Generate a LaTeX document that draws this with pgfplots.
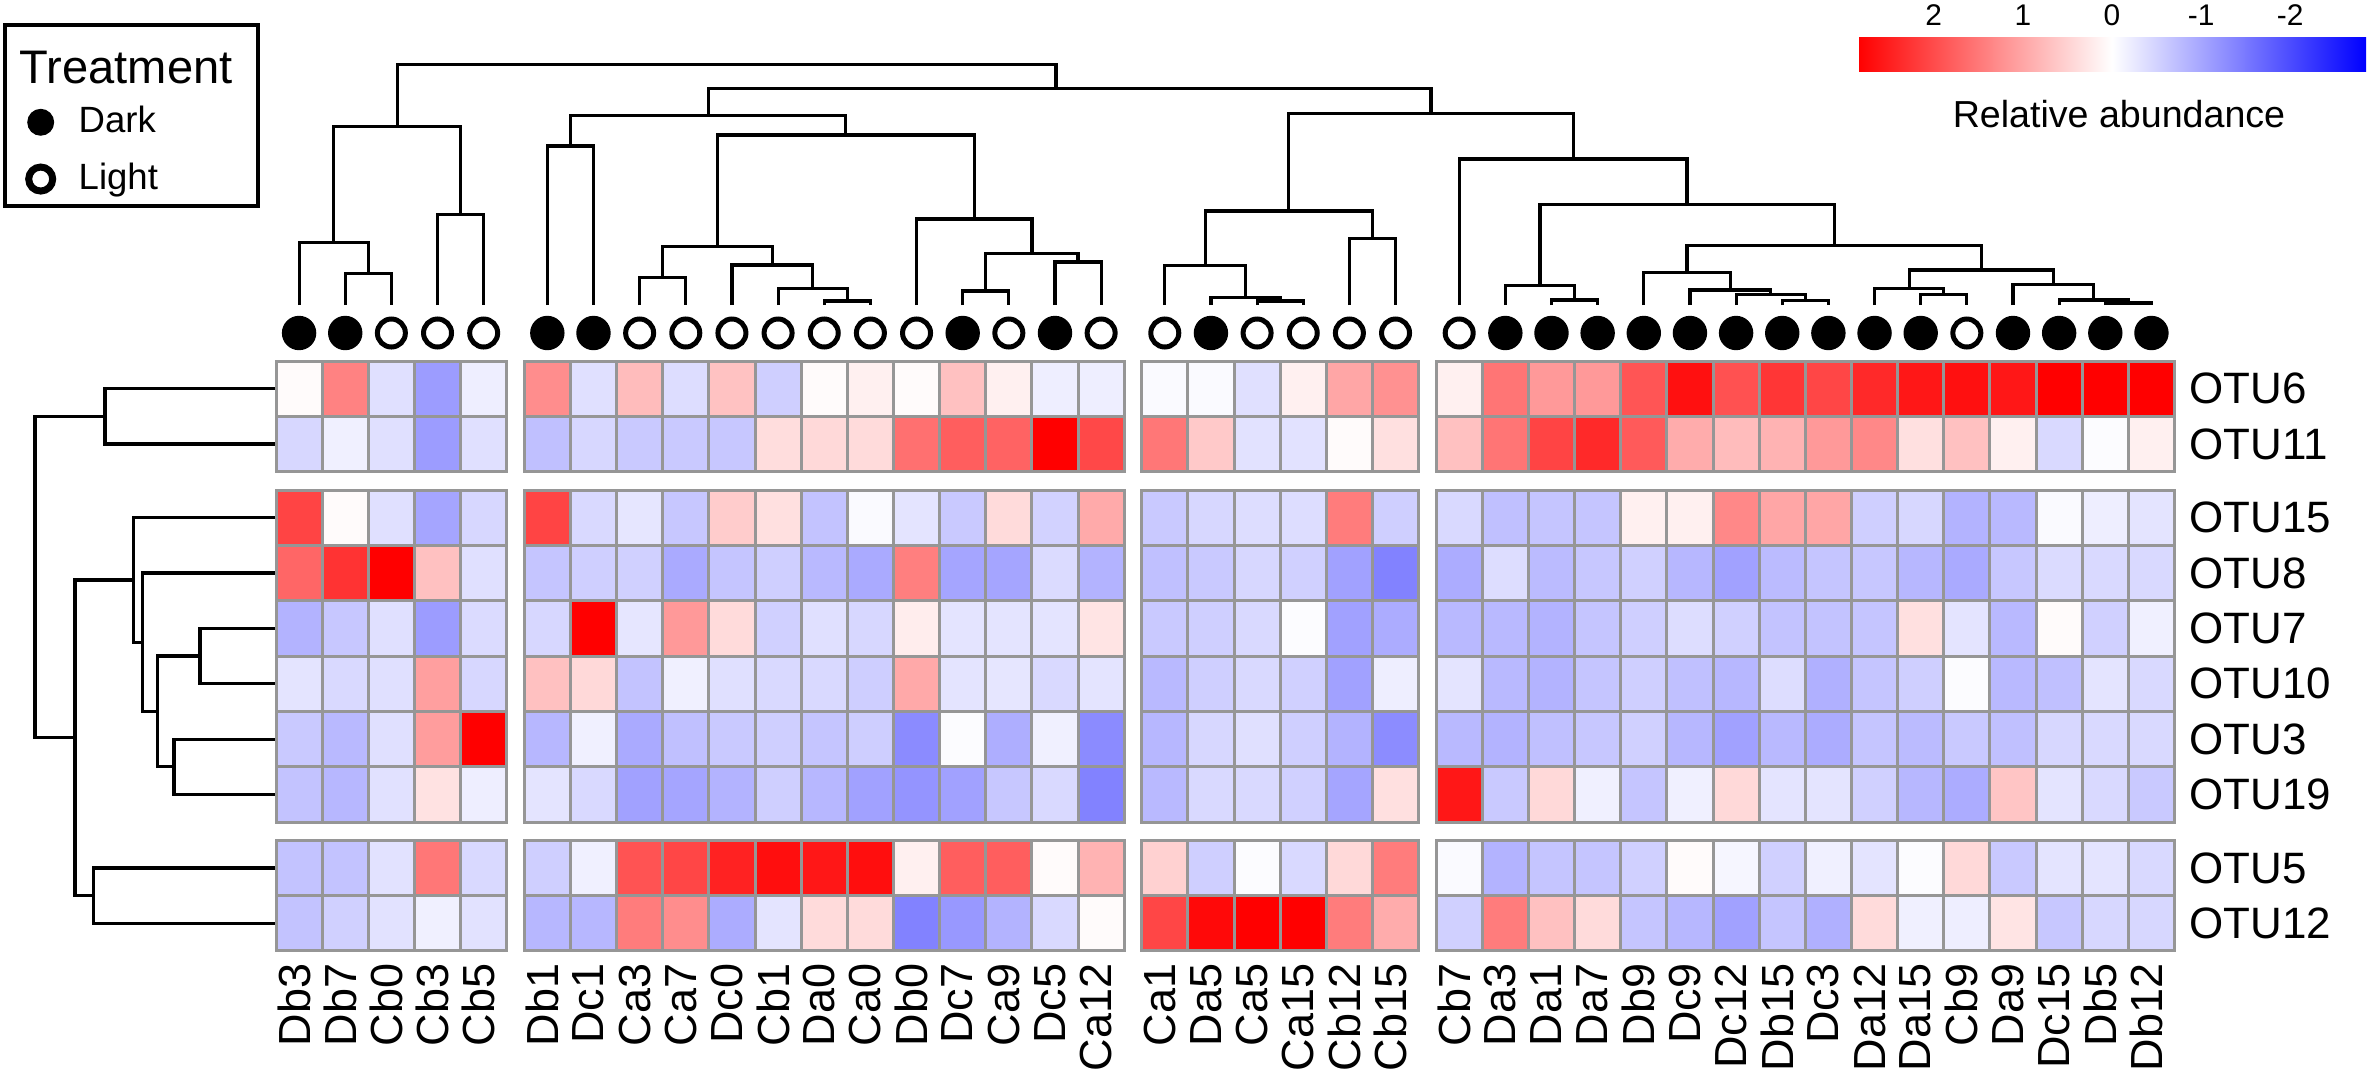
\documentclass[border=0pt]{standalone}
\usepackage{pgfplots}
\pgfplotsset{compat=1.18}
\usepackage{pgfplotstable}
\usepackage{fontspec}
\setmainfont{Liberation Sans}

\definecolor{cellgray}{RGB}{150,150,150}

% relative abundance (scaled), samples in dendrogram order
% i = column index, g = column block, t = 1 dark / 0 light
\pgfplotstableread{
name i  g t OTU6  OTU11 OTU15 OTU8  OTU7  OTU10 OTU3  OTU19 OTU5  OTU12
Db3  0  0 1  0.05 -0.45  2.09  1.71 -0.85 -0.30 -0.60 -0.67 -0.67 -0.67
Db7  1  0 1  1.40 -0.17  0.05  2.28 -0.62 -0.42 -0.78 -0.80 -0.67 -0.52
Cb0  2  0 0 -0.35 -0.35 -0.35  2.85 -0.35 -0.35 -0.35 -0.33 -0.32 -0.32
Cb3  3  0 0 -1.10 -1.10 -1.00  0.70 -1.10  1.07  1.10  0.33  1.52 -0.17
Cb5  4  0 0 -0.19 -0.35 -0.45 -0.35 -0.40 -0.45  2.85 -0.19 -0.42 -0.32
Db1  5  1 1  1.28 -0.70  2.09 -0.65 -0.45  0.70 -0.80 -0.30 -0.53 -0.80
Dc1  6  1 1 -0.35 -0.45 -0.42 -0.53  2.85  0.43 -0.17 -0.42 -0.17 -0.80
Ca3  7  1 0  0.75 -0.60 -0.28 -0.52 -0.28 -0.67 -0.95 -1.05  1.93  1.47
Ca7  8  1 0 -0.38 -0.60 -0.62 -0.95  1.14 -0.17 -0.70 -1.00  2.07  1.28
Dc0  9  1 0  0.68 -0.62  0.57 -0.65  0.40 -0.35 -0.60 -0.85  2.47 -0.93
Cb1  10 1 0 -0.53  0.38  0.35 -0.53 -0.52 -0.42 -0.53 -0.53  2.70 -0.30
Da0  11 1 0  0.05  0.43 -0.67 -0.78 -0.35 -0.42 -0.65 -0.80  2.60  0.40
Ca0  12 1 0  0.17  0.40 -0.05 -0.95 -0.45 -0.55 -0.55 -1.05  2.70  0.40
Db0  13 1 0  0.05  1.60 -0.30  1.43  0.20  0.96 -1.30 -1.20  0.17 -1.40
Dc7  14 1 1  0.70  1.80 -0.60 -1.00 -0.30 -0.30 -0.03 -1.05  1.80 -1.15
Ca9  15 1 0  0.17  1.75  0.40 -1.00 -0.30 -0.28 -0.90 -0.62  1.80 -0.85
Dc5  16 1 1 -0.19  2.85 -0.50 -0.40 -0.30 -0.42 -0.17 -0.42  0.05 -0.42
Ca12 17 1 0 -0.19  2.05  0.95 -0.85  0.30 -0.30 -1.30 -1.40  0.85  0.05
Ca1  18 2 0 -0.05  1.52 -0.60 -0.70 -0.60 -0.78 -0.80 -0.78  0.52  2.07
Da5  19 2 1 -0.05  0.60 -0.45 -0.60 -0.53 -0.53 -0.45 -0.42 -0.53  2.75
Ca5  20 2 0 -0.35 -0.32 -0.38 -0.45 -0.42 -0.42 -0.35 -0.42 -0.03  2.85
Ca15 21 2 0  0.17 -0.32 -0.38 -0.52 -0.03 -0.52 -0.53 -0.52 -0.42  2.85
Cb12 22 2 0  1.00  0.05  1.47 -1.05 -1.05 -1.05 -0.85 -1.00  0.43  1.47
Cb15 23 2 0  1.23  0.35 -0.53 -1.40 -0.93 -0.19 -1.28  0.35  1.47  0.93
Cb7  24 3 0  0.17  0.70 -0.42 -0.93 -0.78 -0.30 -0.78  2.60 -0.05 -0.52
Da3  25 3 1  1.55  1.55 -0.70 -0.38 -0.78 -0.78 -0.85 -0.60 -0.85  1.47
Da1  26 3 1  1.14  2.09 -0.65 -0.76 -0.85 -0.85 -0.70  0.43 -0.65  0.70
Da7  27 3 1  1.14  2.40 -0.65 -0.62 -0.65 -0.65 -0.62 -0.17 -0.65  0.40
Db9  28 3 1  1.90  1.85  0.17 -0.52 -0.53 -0.53 -0.52 -0.65 -0.52 -0.65
Dc9  29 3 1  2.67  0.93  0.17 -0.80 -0.38 -0.70 -0.80 -0.17  0.05 -0.80
Dc12 30 3 1  1.95  0.75  1.33 -1.05 -0.52 -0.80 -1.05  0.43 -0.10 -1.05
Db15 31 3 1  2.25  0.85  1.00 -0.76 -0.67 -0.38 -0.78 -0.30 -0.52 -0.65
Dc3  32 3 1  2.07  1.14  1.00 -0.65 -0.67 -0.88 -0.93 -0.30 -0.17 -0.88
Da12 33 3 1  2.40  1.33 -0.53 -0.62 -0.65 -0.65 -0.65 -0.52 -0.30  0.40
Da15 34 3 1  2.60  0.35 -0.45 -0.80  0.35 -0.53 -0.76 -0.80 -0.03 -0.17
Cb9  35 3 0  2.67  0.70 -0.85 -0.95 -0.30 -0.03 -0.60 -0.93  0.43 -0.19
Da9  36 3 1  2.60  0.17 -0.78 -0.62 -0.78 -0.78 -0.70  0.65 -0.60  0.30
Dc15 37 3 1  2.85 -0.42 -0.05 -0.40  0.05 -0.70 -0.45 -0.30 -0.30 -0.62
Db5  38 3 1  2.85 -0.03 -0.19 -0.42 -0.52 -0.30 -0.42 -0.42 -0.30 -0.45
Db12 39 3 1  2.85  0.17 -0.30 -0.42 -0.17 -0.42 -0.42 -0.60 -0.42 -0.45
}\samples

\pgfplotstableread{
x    y     name
2189 388.7 OTU6
2189 444.0 OTU11
2189 517.7 OTU15
2189 573.0 OTU8
2189 628.4 OTU7
2189 683.7 OTU10
2189 739.1 OTU3
2189 794.4 OTU19
2189 868.0 OTU5
2189 923.3 OTU12
}\otus

% column centre (px): 46.15 per cell, 17.5 between blocks
\newcommand{\colx}{276+46.15*(\thisrow{i}+0.5)+17.5*\thisrow{g}}

\pgfplotsset{
  cell/.style={scatter, only marks, mark=square*, mark size=0.23075cm,
    point meta=explicit,
    scatter/use mapped color={draw=cellgray, fill=mapped color},
    mark options={yscale=1.1993, line width=0.03cm}, forget plot},
  dend/.style={black, line width=0.032cm, line join=miter, forget plot},
}

\begin{document}
\begin{tikzpicture}
\begin{axis}[
  width=23.7cm, height=10.76cm, scale only axis,
  xmin=0, xmax=2370, ymin=0, ymax=1076, y dir=reverse,
  hide axis, clip=false,
  colormap={rwb}{rgb255=(0,0,255) rgb255=(255,255,255) rgb255=(255,0,0)},
  point meta min=-2.85, point meta max=2.85,
  colorbar horizontal,
  colorbar shift/.style={},
  colorbar style={
    at={(parent axis.south west)}, anchor=south west,
    xshift=18.58cm, yshift=10.04cm,
    width=5.08cm, height=0.34cm, scale only axis,
    hide axis=false, y dir=normal, x dir=reverse,
    xtick={-2,-1,0,1,2},
    xticklabel pos=upper,
    axis line style={draw=none},
    major tick length=0pt,
    xticklabel style={font=\fontsize{8.5}{10}\selectfont},
    /pgf/number format/assume math mode=true,
  },
  legend style={at={(axis cs:24.5,105.7)}, anchor=north west,
    draw=none, fill=none, inner sep=0pt, nodes={inner sep=0pt},
    column sep=0.225cm, row sep=0.25cm,
    font=\fontsize{10.4}{12}\selectfont},
  legend cell align=left,
]

\addlegendimage{legend image code/.code={\fill[black] (0cm,0cm) circle[radius=0.1275cm];}}
\addlegendentry{Dark}
\addlegendimage{legend image code/.code={\draw[black, line width=0.07cm] (0cm,0cm) circle[radius=0.12cm];}}
\addlegendentry{Light}

% heatmap, one row per OTU
\addplot[cell] table[x expr=\colx, y expr=388.7, meta=OTU6]  {\samples};
\addplot[cell] table[x expr=\colx, y expr=444.0, meta=OTU11] {\samples};
\addplot[cell] table[x expr=\colx, y expr=517.7, meta=OTU15] {\samples};
\addplot[cell] table[x expr=\colx, y expr=573.0, meta=OTU8]  {\samples};
\addplot[cell] table[x expr=\colx, y expr=628.4, meta=OTU7]  {\samples};
\addplot[cell] table[x expr=\colx, y expr=683.7, meta=OTU10] {\samples};
\addplot[cell] table[x expr=\colx, y expr=739.1, meta=OTU3]  {\samples};
\addplot[cell] table[x expr=\colx, y expr=794.4, meta=OTU19] {\samples};
\addplot[cell] table[x expr=\colx, y expr=868.0, meta=OTU5]  {\samples};
\addplot[cell] table[x expr=\colx, y expr=923.3, meta=OTU12] {\samples};

% treatment
\addplot[only marks, mark=*, mark size=0.165cm, black, forget plot,
  restrict expr to domain={\thisrow{t}}{1:1}]
  table[x expr=\colx, y expr=333] {\samples};
\addplot[only marks, mark=o, mark size=0.14cm, line width=0.05cm, black, forget plot,
  restrict expr to domain={\thisrow{t}}{0:0}]
  table[x expr=\colx, y expr=333] {\samples};

% sample and OTU names
\addplot[only marks, mark=none, forget plot, point meta=explicit symbolic,
  nodes near coords, nodes near coords style={rotate=90, anchor=east,
    inner sep=0pt, font=\fontsize{12.8}{14}\selectfont}]
  table[x expr=\colx-5, y expr=963, meta=name] {\samples};
\addplot[only marks, mark=none, forget plot, point meta=explicit symbolic,
  nodes near coords, nodes near coords style={anchor=west,
    inner sep=0pt, font=\fontsize{12.5}{14}\selectfont}]
  table[x=x, y=y, meta=name] {\otus};

% column dendrogram
\addplot[dend] coordinates {(345.2,305)(345.2,273.3)(391.4,273.3)(391.4,305)};
\addplot[dend] coordinates {(299.1,305)(299.1,242.7)(368.3,242.7)(368.3,273.3)};
\addplot[dend] coordinates {(437.5,305)(437.5,214.3)(483.7,214.3)(483.7,305)};
\addplot[dend] coordinates {(333.7,242.7)(333.7,126.7)(460.6,126.7)(460.6,214.3)};
\addplot[dend] coordinates {(547.3,305)(547.3,146)(593.5,146)(593.5,305)};
\addplot[dend] coordinates {(639.6,305)(639.6,277.3)(685.8,277.3)(685.8,305)};
\addplot[dend] coordinates {(824.2,305)(824.2,301)(870.4,301)(870.4,305)};
\addplot[dend] coordinates {(778.1,305)(778.1,288.7)(847.3,288.7)(847.3,301)};
\addplot[dend] coordinates {(731.9,305)(731.9,265)(812.7,265)(812.7,288.7)};
\addplot[dend] coordinates {(662.7,277.3)(662.7,246.7)(772.3,246.7)(772.3,265)};
\addplot[dend] coordinates {(962.7,305)(962.7,291)(1008.8,291)(1008.8,305)};
\addplot[dend] coordinates {(1055.0,305)(1055.0,262)(1101.1,262)(1101.1,305)};
\addplot[dend] coordinates {(985.75,291)(985.75,253.3)(1078.05,253.3)(1078.05,262)};
\addplot[dend] coordinates {(916.5,305)(916.5,219)(1031.9,219)(1031.9,253.3)};
\addplot[dend] coordinates {(717.5,246.7)(717.5,135)(974.2,135)(974.2,219)};
\addplot[dend] coordinates {(570.4,146)(570.4,115.7)(845.85,115.7)(845.85,135)};
\addplot[dend] coordinates {(1257.1,305)(1257.1,301)(1303.2,301)(1303.2,305)};
\addplot[dend] coordinates {(1210.9,305)(1210.9,297.7)(1280.15,297.7)(1280.15,301)};
\addplot[dend] coordinates {(1164.8,305)(1164.8,265.7)(1245.5,265.7)(1245.5,297.7)};
\addplot[dend] coordinates {(1349.4,305)(1349.4,238.3)(1395.5,238.3)(1395.5,305)};
\addplot[dend] coordinates {(1205.15,265.7)(1205.15,211)(1372.45,211)(1372.45,238.3)};
\addplot[dend] coordinates {(1551.5,305)(1551.5,300)(1597.6,300)(1597.6,305)};
\addplot[dend] coordinates {(1505.3,305)(1505.3,285.7)(1574.55,285.7)(1574.55,300)};
\addplot[dend] coordinates {(1782.2,305)(1782.2,300.7)(1828.4,300.7)(1828.4,305)};
\addplot[dend] coordinates {(1736.1,305)(1736.1,294.7)(1805.3,294.7)(1805.3,300.7)};
\addplot[dend] coordinates {(1689.9,305)(1689.9,290)(1770.7,290)(1770.7,294.7)};
\addplot[dend] coordinates {(1643.8,305)(1643.8,272.3)(1730.3,272.3)(1730.3,290)};
\addplot[dend] coordinates {(1920.7,305)(1920.7,294.7)(1966.8,294.7)(1966.8,305)};
\addplot[dend] coordinates {(1874.5,305)(1874.5,288.7)(1943.75,288.7)(1943.75,294.7)};
\addplot[dend] coordinates {(2105.3,305)(2105.3,303)(2151.4,303)(2151.4,305)};
\addplot[dend] coordinates {(2059.1,305)(2059.1,300)(2128.35,300)(2128.35,303)};
\addplot[dend] coordinates {(2013.0,305)(2013.0,284.3)(2093.7,284.3)(2093.7,300)};
\addplot[dend] coordinates {(1909.1,288.7)(1909.1,270)(2053.35,270)(2053.35,284.3)};
\addplot[dend] coordinates {(1687.05,272.3)(1687.05,245.7)(1981.2,245.7)(1981.2,270)};
\addplot[dend] coordinates {(1539.9,285.7)(1539.9,204.3)(1834.1,204.3)(1834.1,245.7)};
\addplot[dend] coordinates {(1459.2,305)(1459.2,159)(1687.0,159)(1687.0,204.3)};
\addplot[dend] coordinates {(1288.8,211)(1288.8,113.3)(1573.1,113.3)(1573.1,159)};
\addplot[dend] coordinates {(708.1,115.7)(708.1,88.3)(1430.95,88.3)(1430.95,113.3)};
\addplot[dend] coordinates {(397.15,126.7)(397.15,64.3)(1056,64.3)(1056,88.3)};

% row dendrogram
\addplot[dend] coordinates {(276,388.7)(105,388.7)(105,444.0)(276,444.0)};
\addplot[dend] coordinates {(276,628.4)(200,628.4)(200,683.7)(276,683.7)};
\addplot[dend] coordinates {(276,739.1)(174,739.1)(174,794.4)(276,794.4)};
\addplot[dend] coordinates {(200,656.05)(157.7,656.05)(157.7,766.75)(174,766.75)};
\addplot[dend] coordinates {(276,573.0)(142.7,573.0)(142.7,711.4)(157.7,711.4)};
\addplot[dend] coordinates {(276,517.7)(133.3,517.7)(133.3,642.2)(142.7,642.2)};
\addplot[dend] coordinates {(276,868.0)(93.3,868.0)(93.3,923.3)(276,923.3)};
\addplot[dend] coordinates {(133.3,579.95)(75,579.95)(75,895.65)(93.3,895.65)};
\addplot[dend] coordinates {(105,416.35)(35,416.35)(35,737.8)(75,737.8)};

% treatment legend frame and title, colour bar caption
\draw[line width=0.04cm] (axis cs:5,25) rectangle (axis cs:258,206);
\node[anchor=base west, inner sep=0pt, font=\fontsize{13.4}{15}\selectfont]
  at (axis cs:19,83) {Treatment};
\node[anchor=base, inner sep=0pt, font=\fontsize{10.7}{12}\selectfont]
  at (axis cs:2119,127) {Relative abundance};
\end{axis}
\pgfresetboundingbox
\path (0,0) rectangle (23.7cm,10.76cm);
\end{tikzpicture}
\end{document}
